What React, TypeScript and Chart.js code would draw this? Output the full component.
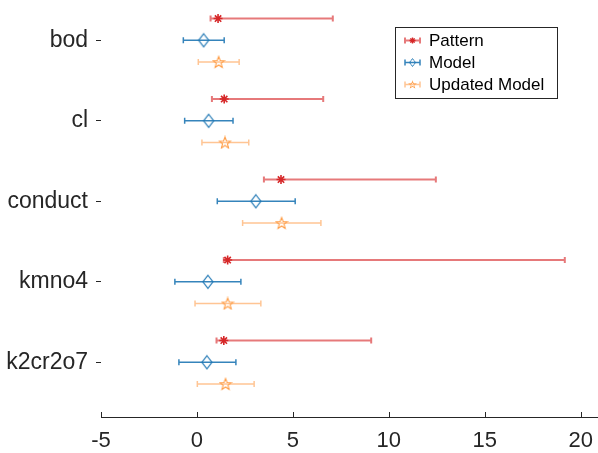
import React, { useEffect, useRef } from "react";
import { Chart, registerables } from "chart.js";

Chart.register(...registerables);

const categories = ["bod", "cl", "conduct", "kmno4", "k2cr2o7"];
const seriesNames = ["Pattern", "Model", "Updated Model"];

const patternMean = [1.1, 1.42, 4.38, 1.6, 1.4];
const patternLow = [0.71, 0.78, 3.49, 1.4, 1.02];
const patternHigh = [7.08, 6.58, 12.45, 19.17, 9.08];

const modelMean = [0.35, 0.61, 3.07, 0.57, 0.52];
const modelLow = [-0.71, -0.64, 1.06, -1.15, -0.94];
const modelHigh = [1.42, 1.88, 5.12, 2.29, 2.03];

const updatedMean = [1.13, 1.46, 4.41, 1.6, 1.49];
const updatedLow = [0.07, 0.26, 2.38, -0.1, 0.02];
const updatedHigh = [2.2, 2.7, 6.46, 3.33, 2.98];

const rowOffsets = [-0.27, 0, 0.27];
const xTicks = [-5, 0, 5, 10, 15, 20];

const FONT = "'Liberation Sans', Arial, Helvetica, sans-serif";
const TXT = "#262626";

const markerColors = ["#d62728", "#1f77b4", "#ff9f4a"];
const lineColors = ["rgba(214,39,40,0.62)", "rgba(31,119,180,0.9)", "rgba(255,150,60,0.55)"];
const lineWidths = [2, 1.5, 1.5];

function makeDiamond(color: string) {
  const c = document.createElement("canvas");
  c.width = 14;
  c.height = 16;
  const g = c.getContext("2d")!;
  g.strokeStyle = color;
  g.lineWidth = 1.2;
  g.beginPath();
  g.moveTo(7, 1.5);
  g.lineTo(12, 8);
  g.lineTo(7, 14.5);
  g.lineTo(2, 8);
  g.closePath();
  g.stroke();
  return c;
}

function makePentagram(color: string) {
  const c = document.createElement("canvas");
  c.width = 14;
  c.height = 14;
  const g = c.getContext("2d")!;
  g.strokeStyle = color;
  g.lineWidth = 1.1;
  g.beginPath();
  const R = 6,
    r = 2.5,
    cx = 7,
    cy = 7.5;
  for (let i = 0; i < 10; i++) {
    const a = -Math.PI / 2 + (i * Math.PI) / 5;
    const rad = i % 2 === 0 ? R : r;
    const x = cx + rad * Math.cos(a);
    const y = cy + rad * Math.sin(a);
    if (i === 0) g.moveTo(x, y);
    else g.lineTo(x, y);
  }
  g.closePath();
  g.stroke();
  return c;
}

export default function App() {
  const ref = useRef<HTMLCanvasElement>(null);

  useEffect(() => {
    const means = [patternMean, modelMean, updatedMean];
    const lows = [patternLow, modelLow, updatedLow];
    const highs = [patternHigh, modelHigh, updatedHigh];
    const diamond = makeDiamond(markerColors[1]);
    const pent = makePentagram(markerColors[2]);

    const datasets = seriesNames.map((name, s) => ({
      label: name,
      data: categories.map((_, i) => ({ x: means[s][i], y: i + 1 + rowOffsets[s] })),
      showLine: false,
      pointStyle: s === 0 ? "star" : s === 1 ? diamond : pent,
      pointRadius: s === 0 ? 4.5 : 6,
      borderColor: markerColors[s],
      backgroundColor: "transparent",
      borderWidth: s === 0 ? 1.6 : 1,
    }));

    const errorBars = {
      id: "errorBars",
      beforeDatasetsDraw(chart: any) {
        const { ctx, scales } = chart;
        const xs = scales.x,
          ys = scales.y;
        ctx.save();
        for (let s = 0; s < 3; s++) {
          ctx.strokeStyle = lineColors[s];
          ctx.lineWidth = lineWidths[s];
          for (let i = 0; i < categories.length; i++) {
            const y = ys.getPixelForValue(i + 1 + rowOffsets[s]);
            const x1 = xs.getPixelForValue(lows[s][i]);
            const x2 = xs.getPixelForValue(highs[s][i]);
            ctx.beginPath();
            ctx.moveTo(x1, y);
            ctx.lineTo(x2, y);
            ctx.moveTo(x1, y - 3);
            ctx.lineTo(x1, y + 3);
            ctx.moveTo(x2, y - 3);
            ctx.lineTo(x2, y + 3);
            ctx.stroke();
          }
        }
        ctx.restore();
      },
      afterDraw(chart: any) {
        const { ctx, scales, chartArea } = chart;
        const xs = scales.x;
        ctx.save();
        // inward x ticks
        ctx.strokeStyle = TXT;
        ctx.lineWidth = 1;
        xTicks.forEach((t) => {
          const x = Math.round(xs.getPixelForValue(t)) + 0.5;
          ctx.beginPath();
          ctx.moveTo(x, chartArea.bottom);
          ctx.lineTo(x, chartArea.bottom - 5);
          ctx.stroke();
        });
        // legend
        const bx = 395.5,
          by = 27.5,
          bw = 162,
          bh = 71;
        ctx.fillStyle = "#ffffff";
        ctx.fillRect(bx, by, bw, bh);
        ctx.strokeStyle = TXT;
        ctx.lineWidth = 1;
        ctx.strokeRect(bx, by, bw, bh);
        const rows = [40.5, 62.5, 84.5];
        ctx.font = `17px ${FONT}`;
        ctx.textBaseline = "middle";
        ctx.textAlign = "left";
        seriesNames.forEach((name, s) => {
          const y = rows[s];
          const x1 = 405,
            x2 = 420,
            xm = 412.5;
          ctx.strokeStyle = lineColors[s];
          ctx.lineWidth = lineWidths[s];
          ctx.beginPath();
          ctx.moveTo(x1, y);
          ctx.lineTo(x2, y);
          ctx.moveTo(x1, y - 3);
          ctx.lineTo(x1, y + 3);
          ctx.moveTo(x2, y - 3);
          ctx.lineTo(x2, y + 3);
          ctx.stroke();
          if (s === 0) {
            ctx.strokeStyle = markerColors[0];
            ctx.lineWidth = 1.4;
            const r = 3;
            ctx.beginPath();
            for (let k = 0; k < 4; k++) {
              const a = (k * Math.PI) / 4;
              ctx.moveTo(xm - r * Math.cos(a), y - r * Math.sin(a));
              ctx.lineTo(xm + r * Math.cos(a), y + r * Math.sin(a));
            }
            ctx.stroke();
          } else {
            const img = s === 1 ? diamond : pent;
            ctx.drawImage(img, xm - img.width / 2 * 0.6, y - img.height / 2 * 0.6, img.width * 0.6, img.height * 0.6);
          }
          ctx.fillStyle = "#000000";
          ctx.fillText(name, 429, y + 1);
        });
        ctx.restore();
      },
    };

    const chart = new Chart(ref.current!, {
      type: "scatter",
      data: { datasets: datasets as any },
      options: {
        animation: false,
        responsive: false,
        maintainAspectRatio: false,
        layout: { autoPadding: false, padding: { top: 0, right: 0, left: 0, bottom: 0 } },
        plugins: { legend: { display: false }, tooltip: { enabled: false } },
        scales: {
          x: {
            type: "linear",
            min: -5,
            max: 20.9,
            afterBuildTicks: (scale: any) => {
              scale.ticks = xTicks.map((v) => ({ value: v }));
            },
            afterFit: (scale: any) => {
              scale.height = 36;
              scale.paddingLeft = 0;
              scale.paddingRight = 0;
            },
            ticks: {
              color: TXT,
              font: { family: FONT, size: 22 },
              padding: 11,
              maxRotation: 0,
              autoSkip: false,
              callback: (v: any) => String(v),
            },
            grid: { display: true, drawOnChartArea: false, tickLength: 0 },
            border: { display: true, color: TXT, width: 1 },
          },
          y: {
            type: "linear",
            reverse: true,
            min: 0.5,
            max: 5.68,
            afterBuildTicks: (scale: any) => {
              scale.ticks = categories.map((_, i) => ({ value: i + 1 }));
            },
            afterFit: (scale: any) => {
              scale.width = 101;
              scale.paddingTop = 0;
              scale.paddingBottom = 0;
            },
            ticks: {
              color: TXT,
              font: { family: FONT, size: 23 },
              padding: 8,
              autoSkip: false,
              callback: (v: any) => categories[Number(v) - 1] ?? "",
            },
            grid: { display: true, drawOnChartArea: false, tickLength: 5, color: TXT },
            border: { display: false },
          },
        },
      },
      plugins: [errorBars],
    });
    return () => chart.destroy();
  }, []);

  return (
    <div style={{ position: "fixed", left: 0, top: 0, width: 598, height: 453, background: "#fff" }}>
      <canvas ref={ref} width={598} height={453} style={{ width: 598, height: 453 }} />
    </div>
  );
}
